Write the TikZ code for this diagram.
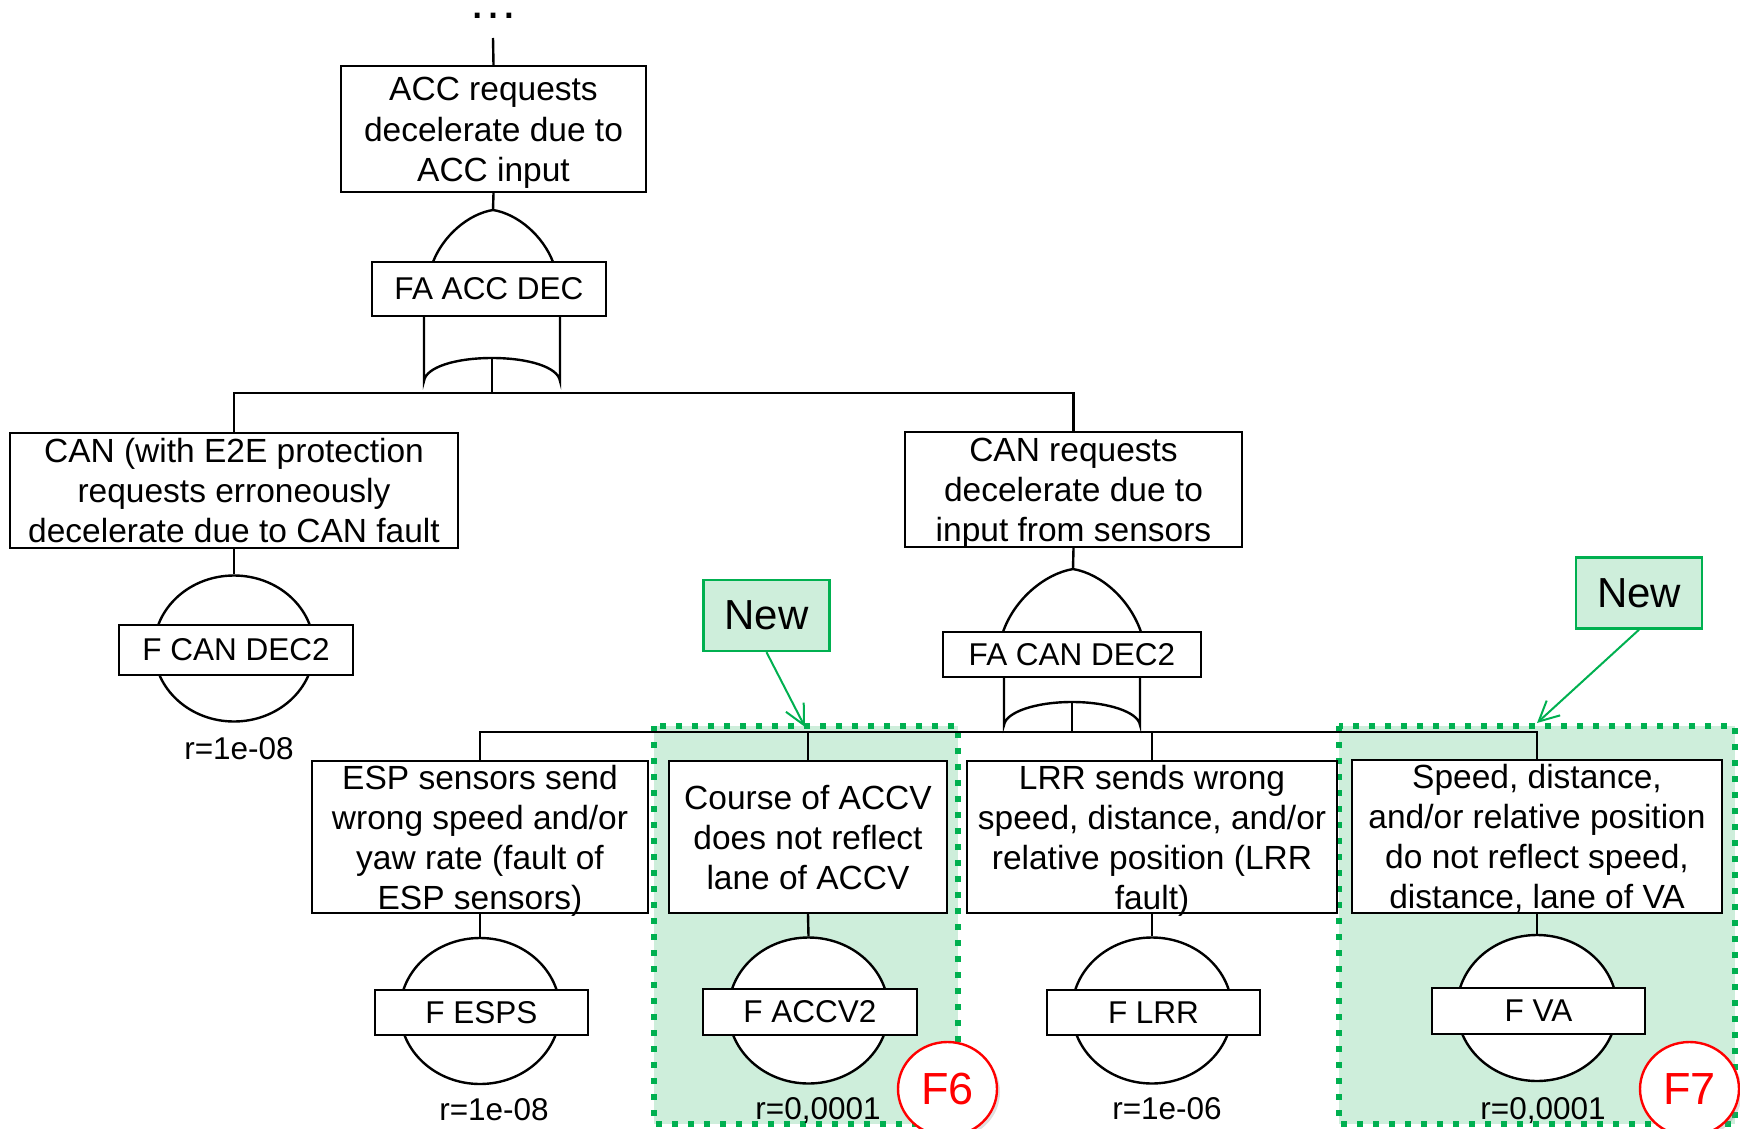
\documentclass[tikz,border=0pt]{standalone}
\usepackage{fontspec}
\setmainfont{Liberation Sans}
\usetikzlibrary{shapes.geometric,arrows.meta,shadows}
\definecolor{mint}{RGB}{206,238,219}
\definecolor{kgreen}{RGB}{0,176,80}
\definecolor{kred}{RGB}{255,0,0}
% fixed height of the first line and no depth on the last line of an event text
\newcommand\evfirst{\rule{0pt}{12pt}}
\newcommand\evlast[1]{\raisebox{0pt}[\height][0pt]{#1}}

\begin{document}
\begin{tikzpicture}[x=0.5pt,y=-0.5pt,
  wh/.style 2 args={minimum width=#1*0.5pt,minimum height=#2*0.5pt},
  line/.style={line width=1.2pt,black},
  event/.style={draw,line width=1.2pt,fill=white,inner sep=0pt,align=center,
    font=\fontsize{16.75}{20}\selectfont},
  tag/.style={draw,line width=1.2pt,fill=white,inner sep=0pt,
    font=\fontsize{15.75}{19}\selectfont},
  basic/.style={draw,line width=1.2pt,fill=white,ellipse,inner sep=0pt,wh={160}{146}},
  rate/.style={anchor=base,inner sep=0pt,font=\fontsize{15.75}{19}\selectfont},
  newzone/.style={fill=mint,draw=kgreen,line width=3pt,dash pattern=on 3pt off 5pt},
  newtag/.style={draw=kgreen,line width=1.2pt,fill=mint,inner sep=0pt,wh={126}{71},
    font=\fontsize{21}{25}\selectfont},
  newarrow/.style={draw=kgreen,line width=1pt,-{Straight Barb[length=10pt,width=10pt]}},
  fmark/.style={ellipse,draw=kred,line width=1.2pt,fill=white,text=kred,inner sep=0pt,
    wh={99}{94},font=\fontsize{22.5}{27}\selectfont,
    drop shadow={opacity=0.25,shadow xshift=1.5pt,shadow yshift=-1.5pt}}
]
\useasboundingbox (0,0) rectangle (1740,1129);

% highlighted new branches
\path[newzone] (654,726) rectangle (958,1124);
\path[newzone] (1339,726) rectangle (1735,1124);

% lead-in from the parent event
\node[inner sep=0pt,anchor=base,font=\fontsize{25}{30}\selectfont] (dots) at (493,18.5) {…};
\coordinate (lead) at (493,38);
\node[event,wh={305}{126}] (acc) at (493.5,129) {\evfirst ACC requests\\decelerate due to\\\evlast{ACC input}};
\draw[line] (lead) -- (acc.north);

% gate FA ACC DEC
\coordinate (g1in) at (493,210);
\draw[line] (acc.south) -- (g1in);
\draw[line] (433,262) .. controls (443,236) and (468,214) .. (g1in)
  .. controls (518,214) and (543,236) .. (553,262);
\draw[line] (424,316) -- (424,381) .. controls (426,367) and (456,358) .. (492,358)
  .. controls (528,358) and (558,367) .. (560,381) -- (560,316);
\node[tag,wh={234}{54}] (faacc) at (489,289) {FA ACC DEC};
\coordinate (g1out) at (492,358);
\coordinate (j1) at (492,393);
\draw[line] (g1out) -- (j1);

% second level
\node[event,wh={448}{115}] (canl) at (234,490.5) {\evfirst CAN (with E2E protection\\requests erroneously\\\evlast{decelerate due to CAN fault}};
\node[event,wh={337}{115}] (canr) at (1073.5,489.5) {\evfirst CAN requests\\decelerate due to\\\evlast{input from sensors}};
\draw[line] (canl.north) |- (j1) -| (canr.north);

% basic event F CAN DEC2
\node[basic] (ecan) at (234,648.5) {};
\node[tag,wh={234}{50}] (fcan) at (236,650) {F CAN DEC2};
\node[rate] (rcan) at (239,759) {r=1e-08};
\draw[line] (canl.south) -- (ecan.north);

% gate FA CAN DEC2
\coordinate (g2in) at (1073,569);
\draw[line] (canr.south) -- (g2in);
\draw[line] (1003,632) .. controls (1014,600) and (1044,574) .. (g2in)
  .. controls (1102,574) and (1130,600) .. (1141,632);
\draw[line] (1004,677) -- (1004,725) .. controls (1006,712) and (1036,702) .. (1072,702)
  .. controls (1108,702) and (1138,712) .. (1140,725) -- (1140,677);
\node[tag,wh={258}{45}] (facan) at (1072,654.5) {FA CAN DEC2};
\coordinate (g2out) at (1072,702);
\coordinate (j2) at (1072,732);
\draw[line] (g2out) -- (j2);

% third level
\node[event,wh={336}{152}] (esp) at (480,837) {\evfirst ESP sensors send\\wrong speed and/or\\yaw rate (fault of\\\evlast{ESP sensors)}};
\node[event,wh={278}{152}] (accv) at (808,837) {\evfirst Course of ACCV\\does not reflect\\\evlast{lane of ACCV}};
\node[event,wh={370}{152}] (lrr) at (1152,837) {\evfirst LRR sends wrong\\speed, distance, and/or\\relative position (LRR\\\evlast{fault)}};
\node[event,wh={370}{153}] (va) at (1537,836.5) {\evfirst Speed, distance,\\and/or relative position\\do not reflect speed,\\\evlast{distance, lane of VA}};
\draw[line] (esp.north) |- (j2) -| (va.north);
\draw[line] (accv.north) -- (accv.north |- j2);
\draw[line] (lrr.north) -- (lrr.north |- j2);

% basic events
\node[basic] (eesp) at (480,1011) {};
\node[tag,wh={213}{45}] (fesp) at (481.5,1012.5) {F ESPS};
\node[rate] (resp) at (494,1120) {r=1e-08};
\draw[line] (esp.south) -- (eesp.north);

\node[basic] (eaccv) at (808.5,1010.5) {};
\node[tag,wh={214}{46}] (faccv) at (810,1012) {F ACCV2};
\node[rate] (raccv) at (818,1119) {r=0,0001};
\draw[line] (accv.south) -- (eaccv.north);

\node[basic] (elrr) at (1152,1010.5) {};
\node[tag,wh={213}{45}] (flrr) at (1153.5,1012.5) {F LRR};
\node[rate] (rlrr) at (1167,1119) {r=1e-06};
\draw[line] (lrr.south) -- (elrr.north);

\node[basic] (eva) at (1537,1008) {};
\node[tag,wh={213}{46}] (fva) at (1538.5,1011) {F VA};
\node[rate] (rva) at (1543,1119) {r=0,0001};
\draw[line] (va.south) -- (eva.north);

% "New" callouts
\node[newtag] (new1) at (766.5,615.5) {New};
\coordinate (tip1) at (805,727);
\draw[newarrow] (new1.south) -- (tip1);
\node[newtag] (new2) at (1639,593) {New};
\coordinate (tip2) at (1537,723);
\draw[newarrow] (new2.south) -- (tip2);

% fault markers
\node[fmark] (f6) at (947.5,1089) {F6};
\node[fmark] (f7) at (1689.5,1089) {F7};
\end{tikzpicture}
\end{document}
